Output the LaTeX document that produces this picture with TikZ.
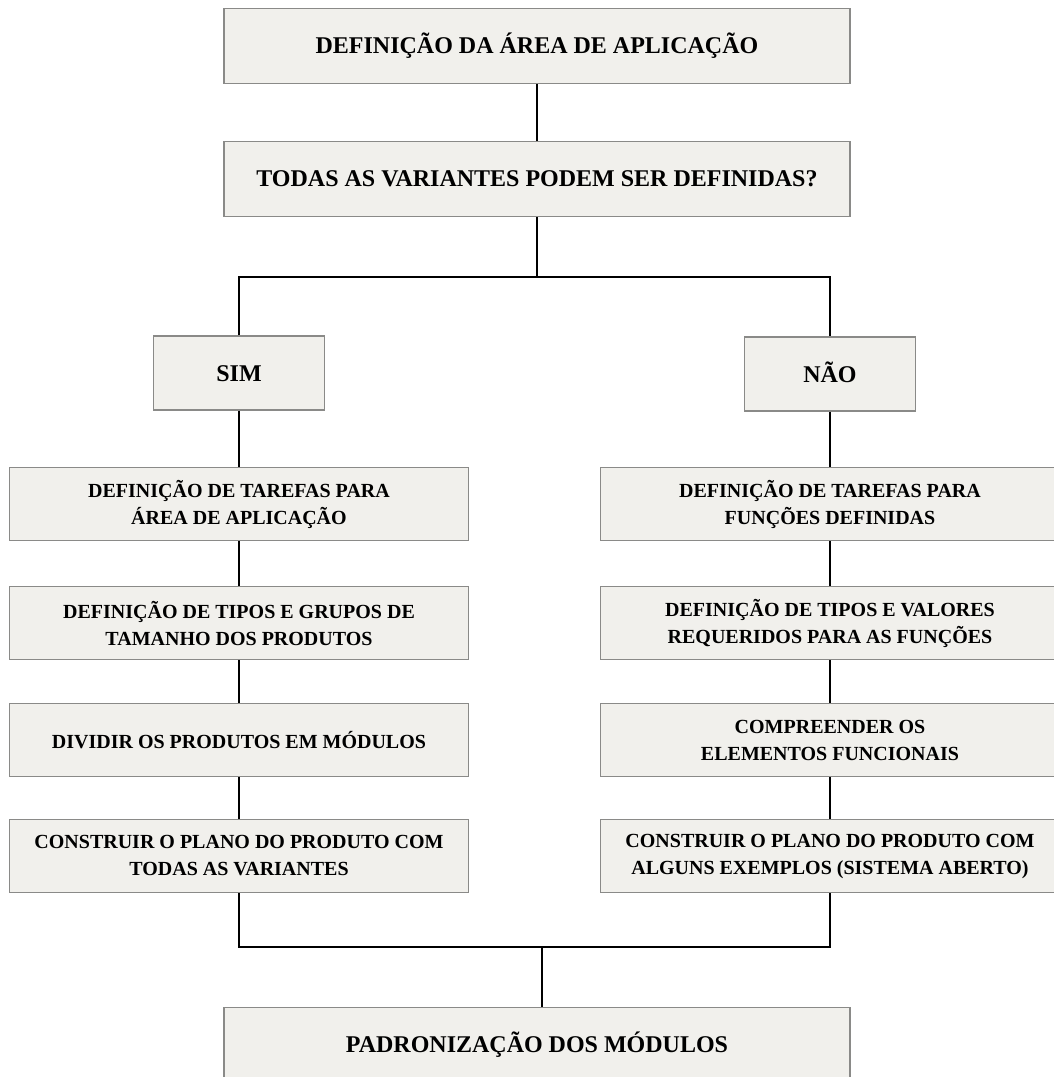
\documentclass[tikz,border=0pt]{standalone}
\usepackage{fontspec}
\setmainfont{Liberation Serif}
\definecolor{boxfill}{HTML}{F1F0EC}
\definecolor{boxline}{HTML}{8A8A88}
\begin{document}
\begin{tikzpicture}[x=1pt,y=-1pt,
  box/.style={draw=boxline, fill=boxfill, line width=1.3pt, align=center,
    inner sep=0pt, font=\bfseries\fontsize{24}{28}\selectfont},
  widebox/.style={box, minimum width=626pt, minimum height=75pt},
  choice/.style={box, minimum width=171pt, minimum height=74pt,
    text height=16pt, text depth=0pt},
  stepbox/.style={box, minimum width=459pt, minimum height=73pt,
    font=\bfseries\fontsize{20}{27}\selectfont},
  link/.style={line width=2.6pt, black}]
\clip (0,0) rectangle (1054,1077);
\useasboundingbox (0,0) rectangle (1054,1077);

% main question
\node[widebox] (area) at (537,46) {DEFINIÇÃO DA ÁREA DE APLICAÇÃO};
\node[widebox] (quest) at (537,179) {TODAS AS VARIANTES PODEM SER DEFINIDAS?};
\coordinate (split) at (539,277);

% answers
\node[choice] (sim) at (239,373) {SIM};
\node[choice] (nao) at (830,374) {NÃO};

% left branch
\node[stepbox] (l1) at (239,504) {DEFINIÇÃO DE TAREFAS PARA\\ÁREA DE APLICAÇÃO};
\node[stepbox] (l2) at (239,623) {DEFINIÇÃO DE TIPOS E GRUPOS DE\\TAMANHO DOS PRODUTOS};
\node[stepbox] (l3) at (239,740) {DIVIDIR OS PRODUTOS EM MÓDULOS};
\node[stepbox] (l4) at (239,856) {CONSTRUIR O PLANO DO PRODUTO COM\\TODAS AS VARIANTES};

% right branch
\node[stepbox] (r1) at (830,504) {DEFINIÇÃO DE TAREFAS PARA\\FUNÇÕES DEFINIDAS};
\node[stepbox] (r2) at (830,623) {DEFINIÇÃO DE TIPOS E VALORES\\REQUERIDOS PARA AS FUNÇÕES};
\node[stepbox] (r3) at (830,740) {COMPREENDER OS\\ELEMENTOS FUNCIONAIS};
\node[stepbox] (r4) at (830,856) {CONSTRUIR O PLANO DO PRODUTO COM\\ALGUNS EXEMPLOS (SISTEMA ABERTO)};

% result
\coordinate (join) at (542,947);
\node[widebox] (pad) at (537,1045) {PADRONIZAÇÃO DOS MÓDULOS};

% connectors
\draw[link] (area.south) -- (quest.north);
\draw[link] (quest.south) -- (quest.south |- split);
\draw[link] (sim.north) |- (split) -| (nao.north);
\draw[link] (sim) -- (l1);
\draw[link] (l1) -- (l2);
\draw[link] (l2) -- (l3);
\draw[link] (l3) -- (l4);
\draw[link] (nao) -- (r1);
\draw[link] (r1) -- (r2);
\draw[link] (r2) -- (r3);
\draw[link] (r3) -- (r4);
\draw[link] (l4.south) |- (join) -| (r4.south);
\draw[link] (join) -- (join |- pad.north);
\end{tikzpicture}
\end{document}
